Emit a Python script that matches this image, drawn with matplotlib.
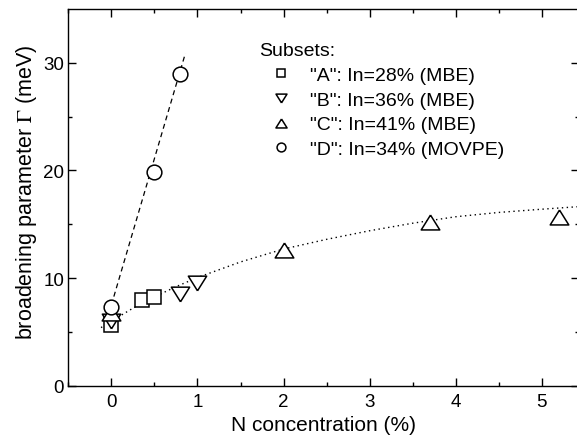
"""
Broadening parameter vs N concentration for four sample subsets.
"""

import matplotlib
matplotlib.use("Agg")
import matplotlib.pyplot as plt
import numpy as np

plt.rcParams["font.family"] = ["Liberation Sans", "DejaVu Sans"]
plt.rcParams["mathtext.fontset"] = "stix"
plt.rcParams["font.size"] = 12

# subset A: In=28% (MBE)
a_x = [0.0, 0.35, 0.5]
a_y = [5.6, 8.0, 8.2]
# subset B: In=36% (MBE)
b_x = [0.0, 0.8, 1.0]
b_y = [6.0, 8.5, 9.5]
# subset C: In=41% (MBE)
c_x = [0.0, 2.0, 3.7, 5.2]
c_y = [6.8, 12.6, 15.2, 15.7]
# subset D: In=34% (MOVPE)
d_x = [0.0, 0.5, 0.8]
d_y = [7.3, 19.9, 29.0]

# dashed guide through D
dash_x = [0.0, 0.86]
dash_y = [7.5, 30.9]
# dotted guide through A/B/C
dot_x = [-0.12, 0.0, 0.25, 0.5, 0.75, 1.0, 1.5, 2.0, 2.5, 3.0, 3.5, 4.0, 4.5, 5.0, 5.45]
dot_y = [5.4, 6.0, 7.2, 8.25, 9.2, 10.05, 11.5, 12.7, 13.6, 14.4, 15.1, 15.7, 16.1, 16.4, 16.65]

labels = ['"A": In=28% (MBE)', '"B": In=36% (MBE)', '"C": In=41% (MBE)', '"D": In=34% (MOVPE)']

tri_up = [(0, 0.8), (-1, -0.8), (1, -0.8), (0, 0.8)]
tri_dn = [(0, -0.8), (-1, 0.8), (1, 0.8), (0, -0.8)]

fig = plt.figure(figsize=(5.77, 4.39), dpi=100, facecolor="white")
ax = fig.add_axes([0.1184, 0.1191, 0.885, 0.8581])

ax.plot(dash_x, dash_y, color="black", lw=0.9, ls=(0, (4, 3)), zorder=1)
ax.plot(dot_x, dot_y, color="black", lw=1.0, ls=(0, (1, 2.5)), zorder=1)

mk = dict(ls="none", mfc="white", mec="black", mew=1.1, zorder=3)
ha = ax.plot(a_x, a_y, marker="s", ms=9.8, label=labels[0], **mk)[0]
hb = ax.plot(b_x, b_y, marker=tri_dn, ms=13.2, label=labels[1], **mk)[0]
hc = ax.plot(c_x, c_y, marker=tri_up, ms=13.4, label=labels[2], **mk)[0]
hd = ax.plot(d_x, d_y, marker="o", ms=10.6, label=labels[3], **mk)[0]

ax.set_xlim(-0.5, 5.43)
ax.set_ylim(0, 35)
ax.set_xticks([0, 1, 2, 3, 4, 5])
ax.set_xticks(np.arange(-0.5, 5.5, 0.5), minor=True)
ax.set_yticks([0, 10, 20, 30])
ax.set_yticks([5, 15, 25], minor=True)
ax.tick_params(which="both", direction="in", top=True, right=True, width=1.0)
ax.tick_params(which="major", length=6, labelsize=13.5)
ax.tick_params(which="minor", length=3)
ax.tick_params(axis="x", pad=5)
ax.tick_params(axis="y", pad=3)
for s in ax.spines.values():
    s.set_linewidth(1.0)

ax.set_xlabel("N concentration (%)", fontsize=15)
ax.xaxis.set_label_coords(0.5, -0.078)
ax.set_ylabel(r"broadening parameter $\Gamma$ (meV)", fontsize=15.5)
ax.yaxis.set_label_coords(-0.058, 0.515)

leg = ax.legend(
    handles=[ha, hb, hc, hd],
    title="Subsets:",
    title_fontsize=14,
    fontsize=14,
    frameon=False,
    loc="upper left",
    bbox_to_anchor=(259 / 577, 1 - 43 / 439),
    bbox_transform=fig.transFigure,
    borderpad=0,
    borderaxespad=0,
    numpoints=1,
    markerscale=0.6,
    handlelength=2.25,
    handletextpad=0.35,
    labelspacing=0.37,
    alignment="left",
)

fig.savefig("out.png", dpi=100, facecolor="white")
